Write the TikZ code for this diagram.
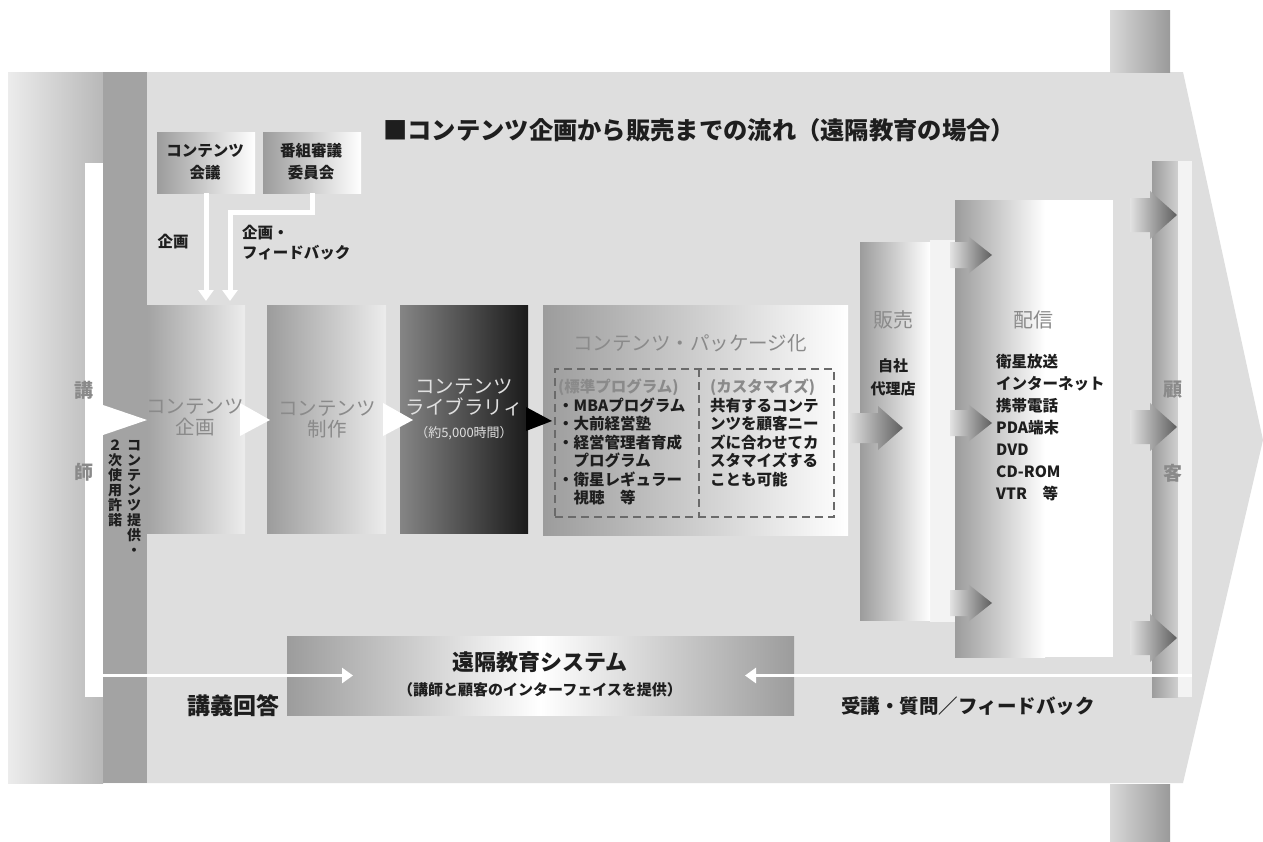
\documentclass[tikz,border=0pt]{standalone}
\usepackage{fontspec}
\setmainfont{Noto Sans CJK JP}
\usetikzlibrary{arrows.meta,calc}
\definecolor{bgc}{HTML}{DEDEDE}
\definecolor{midg}{HTML}{9C9C9C}
\definecolor{bandc}{HTML}{A3A3A3}
\definecolor{txg}{HTML}{8A8A8A}
\definecolor{txd}{HTML}{1E1E1E}
\definecolor{lightg}{HTML}{ECECEC}
\definecolor{edgeg}{HTML}{B8B8B8}
\definecolor{libL}{HTML}{858585}
\definecolor{libR}{HTML}{1A1A1A}
\definecolor{arrL}{HTML}{E2E2E2}
\definecolor{arrR}{HTML}{5E5E5E}
\definecolor{libt}{HTML}{E0E0E0}
\definecolor{dashc}{HTML}{6A6A6A}
\definecolor{paleg}{HTML}{F3F3F3}
\definecolor{kkR}{HTML}{D0D0D0}
\definecolor{cornL}{HTML}{D8D8D8}
\definecolor{cornR}{HTML}{9A9A9A}
\newcommand{\jsize}[2]{\fontsize{#1}{#2}\selectfont}
\newcommand{\shapearrow}[5]{%
  \shade[left color=arrL,right color=arrR]
    ($(#1)+(-#2,-#5)$) -- ($(#1)+(-#3,-#5)$) -- ($(#1)+(-#3,-#4)$) -- (#1)
    -- ($(#1)+(-#3,#4)$) -- ($(#1)+(-#3,#5)$) -- ($(#1)+(-#2,#5)$) -- cycle;}
\begin{document}
\begin{tikzpicture}[x=1pt,y=-1pt,
  box/.style={rectangle,inner sep=0pt,outer sep=0pt,draw=none},
  gbox/.style={box,left color=midg,right color=#1},
  gbox/.default=white,
  gtxt/.style={text=txg,align=center,inner sep=0pt},
  dtxt/.style={text=txd,align=center,inner sep=0pt,font=\bfseries\jsize{15.5}{22}},
  wline/.style={draw=white,line width=#1,-{Triangle[width=15pt,length=11pt]}},
]
\fill[white] (0,0) rectangle (1263,841);
\useasboundingbox (0,0) rectangle (1263,841);
% background arrow shape
\fill[bgc] (8,72) -- (1183,72) -- (1263,440) -- (1183,783) -- (8,783) -- cycle;
\shade[left color=cornL,right color=cornR] (1110,10) rectangle (1170,72);
\shade[left color=cornL,right color=cornR] (1110,784) rectangle (1170,841);
% left gradient and band
\shade[left color=lightg,right color=edgeg] (8,72) rectangle (103,783);
\fill[bandc] (103,72) rectangle (147,783);

% lecturer strip
\node[box,fill=white,minimum width=18pt,minimum height=534pt] (koushi) at (94,430) {};
\node[gtxt,font=\bfseries\jsize{19}{19}] (koushiA) at (84,390) {講};
\node[gtxt,font=\bfseries\jsize{19}{19}] (koushiB) at (84,472) {師};

% header boxes
\node[gbox,minimum width=98pt,minimum height=61pt] (conf1) at (206,162.5) {};
\node[dtxt] (conf1t) at (205,162) {コンテンツ\\会議};
\node[gbox,minimum width=98pt,minimum height=61pt] (conf2) at (312,162.5) {};
\node[dtxt] (conf2t) at (311,162) {番組審議\\委員会};

% title
\node[anchor=west,text=txd,inner sep=0pt,font=\bfseries\jsize{24.3}{26}] (title) at (383,130)
  {■コンテンツ企画から販売までの流れ（遠隔教育の場合）};

% main row
\node[box,left color=bandc,right color=lightg,minimum width=98pt,minimum height=228pt] (kikaku) at (196,419) {};
\node[box,left color=midg,right color=lightg,minimum width=119pt,minimum height=228pt] (seisaku) at (326.5,419) {};
\node[box,left color=libL,right color=libR,minimum width=128pt,minimum height=228pt] (library) at (464,419) {};
\node[box,left color=midg,right color=white,minimum width=305pt,minimum height=230pt] (package) at (695.5,420) {};

% notch from lecturer
\fill[white] ($(koushi.east)+(0,-25)$) -- ($(kikaku.west)+(0,1)$) -- ($(koushi.east)+(0,5)$) -- cycle;
% arrows between main boxes
\fill[white] ($(kikaku.east)+(-5,-16)$) -- ($(kikaku.east)+(25,1)$) -- ($(kikaku.east)+(-5,17)$) -- cycle;
\fill[white] ($(seisaku.east)+(-3,-16)$) -- ($(library.west)+(13,1)$) -- ($(seisaku.east)+(-3,17)$) -- cycle;
\fill[black] ($(library.east)+(-2,-12)$) -- ($(package.west)+(9,1)$) -- ($(library.east)+(-2,12)$) -- cycle;

% vertical text
\node[text=txd,align=center,inner sep=0pt,font=\bfseries\jsize{14}{15},anchor=north] (vtext1) at (134,440)
  {コ\\ン\\テ\\ン\\ツ\\提\\供\\・};
\node[text=txd,align=center,inner sep=0pt,font=\bfseries\jsize{14}{15},anchor=north] (vtext2) at (115,440)
  {２\\次\\使\\用\\許\\諾};

% main box labels
\node[gtxt,font=\jsize{19.5}{21}] (kikakut) at (195,417.5) {コンテンツ\\企画};
\node[gtxt,font=\jsize{19.5}{21}] (seisakut) at (327,419) {コンテンツ\\制作};
\node[text=libt,align=center,inner sep=0pt,font=\jsize{19.5}{21}] (libt1) at (464,397.5) {コンテンツ\\ライブラリィ};
\node[text=libt,align=center,inner sep=0pt,font=\jsize{13}{13}] (libt2) at (464,433) {（約5,000時間）};
\node[gtxt,font=\jsize{19.5}{21}] (packt) at (690,343) {コンテンツ・パッケージ化};

% dashed sub-box
\node[box,draw=dashc,line width=2pt,dash pattern=on 8pt off 5pt,minimum width=279pt,minimum height=148pt] (dbox) at (694.5,443) {};
\draw[dashc,line width=2pt,dash pattern=on 8pt off 5pt] ([xshift=4.5pt]dbox.north) -- ([xshift=4.5pt]dbox.south);
\node[anchor=north west,text=txd,align=left,inner sep=0pt,font=\bfseries\jsize{15.5}{18.5}] (stdlist) at (558,379)
  {\textcolor{txg}{(標準プログラム)}\\・MBAプログラム\\・大前経営塾\\・経営管理者育成\\　プログラム\\・衛星レギュラー\\　視聴　等};
\node[anchor=north west,text=txd,align=left,inner sep=0pt,font=\bfseries\jsize{15.5}{18.5}] (custlist) at (710,379)
  {\textcolor{txg}{(カスタマイズ)}\\共有するコンテ\\ンツを顧客ニー\\ズに合わせてカ\\スタマイズする\\ことも可能};

% sales / delivery / customer
\fill[paleg] (930,240) rectangle (955,622);
\node[box,left color=midg,right color=white,minimum width=70pt,minimum height=378pt] (hanbai) at (895,431) {};
\node[box,fill=white,minimum width=158pt,minimum height=457pt] (haishin) at (1034,428.5) {};
\shade[left color=midg,right color=white] (haishin.north west) rectangle ($(haishin.south west)+(90,0)$);
\node[box,left color=midg,right color=kkR,minimum width=26pt,minimum height=536pt] (kokyaku) at (1165,429) {};
\fill[paleg] (kokyaku.north east) rectangle ($(kokyaku.south east)+(14,0)$);

\node[gtxt,font=\jsize{20}{20}] (hanbait) at (893,320) {販売};
\node[dtxt,font=\bfseries\jsize{15}{23}] (hanbaisub) at (893,377) {自社\\代理店};
\node[gtxt,font=\jsize{20}{20}] (haishint) at (1033,320) {配信};
\node[anchor=north west,text=txd,align=left,inner sep=0pt,font=\bfseries\jsize{15.5}{22}] (haishinlist) at (996,354)
  {衛星放送\\インターネット\\携帯電話\\PDA端末\\DVD\\CD-ROM\\VTR　等};
\node[gtxt,font=\bfseries\jsize{19}{19}] (kokyakuA) at (1173,390) {顧};
\node[gtxt,font=\bfseries\jsize{19}{19}] (kokyakuB) at (1173,473) {客};

% block arrows
\coordinate (hb1) at ($(hanbai.west)+(43,-3)$);
\shapearrow{hb1}{55}{25}{22}{15}
\coordinate (hs1) at ($(haishin.west)+(37,-173.5)$);
\coordinate (hs2) at ($(haishin.west)+(37,-5.5)$);
\coordinate (hs3) at ($(haishin.west)+(37,174.5)$);
\shapearrow{hs1}{42}{24}{19}{13}
\shapearrow{hs2}{42}{24}{19}{13}
\shapearrow{hs3}{42}{24}{19}{13}
\coordinate (kk1) at ($(kokyaku.west)+(25,-214)$);
\coordinate (kk2) at ($(kokyaku.west)+(25,-2)$);
\coordinate (kk3) at ($(kokyaku.west)+(25,209)$);
\shapearrow{kk1}{47}{27}{24}{17}
\shapearrow{kk2}{47}{27}{24}{17}
\shapearrow{kk3}{47}{27}{24}{17}

% planning arrows from header boxes
\draw[wline=5pt,shorten >=4pt] (conf1.south) -- (conf1.south |- kikaku.north);
\draw[wline=5pt,shorten >=4pt] (conf2.south) -- ++(0,19) -| ([xshift=34pt]kikaku.north);
\node[dtxt] (lab1) at (173,242) {企画};
\node[dtxt,align=left,anchor=west,font=\bfseries\jsize{15.5}{20}] (lab2) at (242,243) {企画・\\フィードバック};

% distance learning system
\node[box,left color=midg,right color=midg,middle color=white,minimum width=507pt,minimum height=79pt] (system) at (540.5,675.5) {};
\node[text=txd,inner sep=0pt,font=\bfseries\jsize{22}{22}] (systemt) at (540,662) {遠隔教育システム};
\node[text=txd,inner sep=0pt,font=\bfseries\jsize{15}{15}] (systems) at (540,690) {（講師と顧客のインターフェイスを提供）};
\draw[wline=3.5pt] (koushi.center |- system.west) -- ([xshift=66pt]system.west);
\draw[wline=3.5pt] ($(kokyaku.east |- system.east)+(14,0)$) -- ([xshift=-49pt]system.east);
\node[text=txd,inner sep=0pt,font=\bfseries\jsize{23}{23}] (lab3) at (233,706) {講義回答};
\node[text=txd,inner sep=0pt,font=\bfseries\jsize{19.5}{19.5}] (lab4) at (968,706) {受講・質問／フィードバック};
\end{tikzpicture}
\end{document}
